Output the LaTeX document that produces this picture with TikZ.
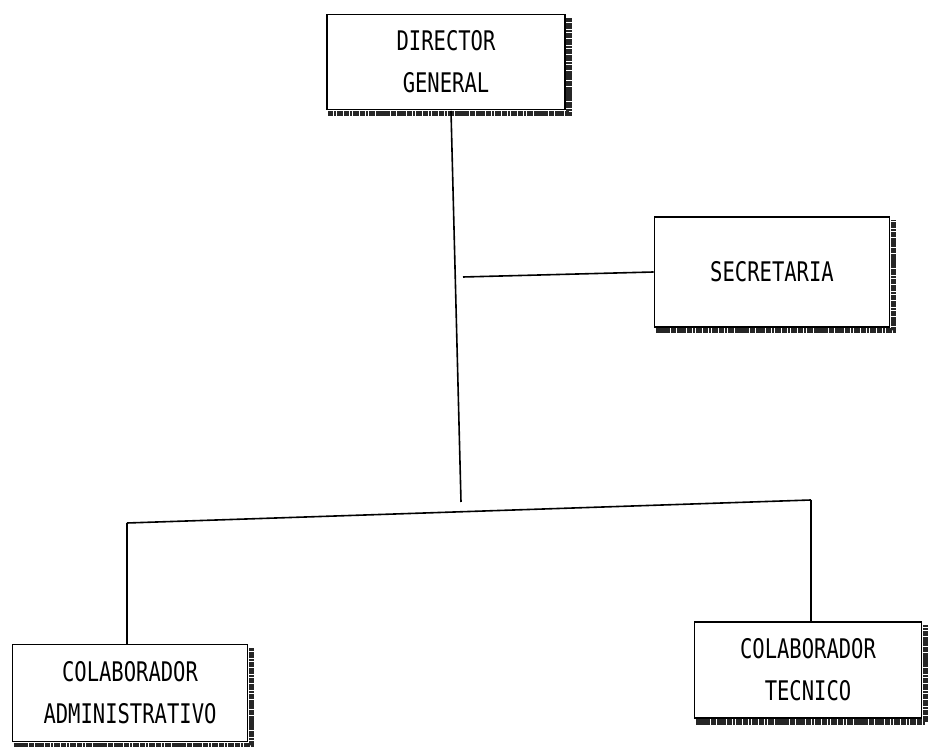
\documentclass[tikz,border=0pt]{standalone}
\usepackage{fontspec}
\newfontfamily\dotfont[FakeStretch=0.76]{DejaVu Sans Mono}
\usepackage{tikz}
\usetikzlibrary{positioning, calc}

\tikzset{
    orgbox/.style={draw, line width=0.9pt, align=center, inner sep=2pt,
        font=\dotfont\fontsize{13.5}{21}\selectfont},
    shadowband/.style={line width=2.6pt, black!85,
        dash pattern=on 2.5pt off 0.4pt on 1.2pt off 0.3pt on 3pt off 0.5pt},
    link/.style={line width=0.8pt}
}

\begin{document}
\begin{tikzpicture}[x=0.5pt, y=-0.5pt]
    \useasboundingbox (0,0) rectangle (931,747);

    % Boxes
    \node[orgbox, minimum width=119pt, minimum height=47.5pt] (dir) at (446,62) {DIRECTOR\\GENERAL};
    \node[orgbox, minimum width=117.5pt, minimum height=55pt] (sec) at (772,272) {SECRETARIA};
    \node[orgbox, minimum width=117.5pt, minimum height=48.5pt] (adm) at (130,693) {COLABORADOR\\ADMINISTRATIVO};
    \node[orgbox, minimum width=113.5pt, minimum height=48pt] (tec) at (808,670) {COLABORADOR\\TECNICO};

    % Shadow bands on right and bottom
    \draw[shadowband] ([xshift=1pt,yshift=-1.5pt]dir.south west) -- ([xshift=1.5pt,yshift=-1.5pt]dir.south east) -- ([xshift=1.5pt,yshift=-2pt]dir.north east);
    \draw[shadowband] ([xshift=1pt,yshift=-1.5pt]sec.south west) -- ([xshift=1.5pt,yshift=-1.5pt]sec.south east) -- ([xshift=1.5pt,yshift=-2pt]sec.north east);
    \draw[shadowband] ([xshift=1pt,yshift=-1.5pt]adm.south west) -- ([xshift=1.5pt,yshift=-1.5pt]adm.south east) -- ([xshift=1.5pt,yshift=-2pt]adm.north east);
    \draw[shadowband] ([xshift=1pt,yshift=-1.5pt]tec.south west) -- ([xshift=1.5pt,yshift=-1.5pt]tec.south east) -- ([xshift=1.5pt,yshift=-2pt]tec.north east);

    % Junction points (the scan runs a little askew)
    \coordinate (spineTop) at (451,111);
    \coordinate (spine) at (461,502);
    \coordinate (secfoot) at (463,277);
    \coordinate (busW) at (127,523);
    \coordinate (busE) at (811,500);

    % Connectors
    \draw[link] (spineTop) -- (spine);
    \draw[link] (secfoot) -- (sec.west);
    \draw[link] (busW) -- (busE);
    \draw[link] (busW) -- (busW |- adm.north);
    \draw[link] (busE) -- (busE |- tec.north);
\end{tikzpicture}
\end{document}
